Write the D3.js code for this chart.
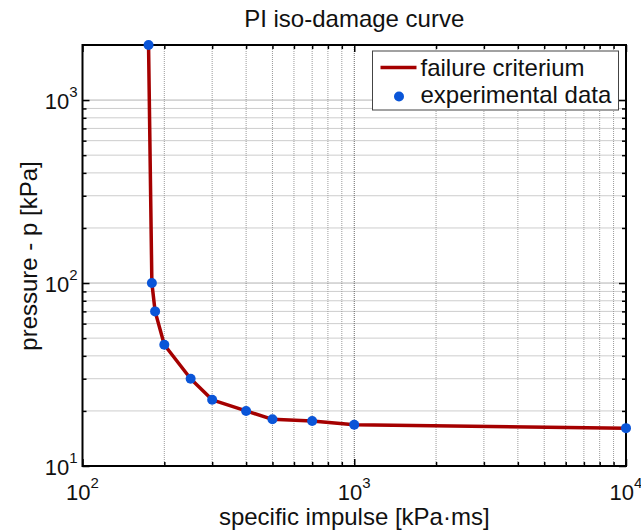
<!DOCTYPE html>
<html>
<head>
<meta charset="utf-8">
<script src="https://cdn.jsdelivr.net/npm/d3@7"></script>
<style>
  body { margin: 0; background: #fff; }
  svg text { font-family: "Liberation Sans", Arial, sans-serif; fill: #111; }
  .grid-minor line { stroke: #9a9a9a; stroke-width: 1; stroke-dasharray: 1,1; }
  .grid-major line { stroke: #666; stroke-width: 1; stroke-dasharray: 1,1; }
  .axis path { display: none; }
  .axis line { stroke: #000; stroke-width: 1.5; }
</style>
</head>
<body>
<div id="chart-area"></div>
<script>

// Data
let impulse  = [175, 180, 185, 200, 250, 300, 400, 500, 700, 1000, 10000];
let pressure = [2000, 100, 70, 46, 30, 23, 20, 18, 17.6, 16.8, 16.1];

// Tick labels (base 10, exponent)
let xTickValues = [100, 1000, 10000];
let xTickExp = ["2", "3", "4"];
let yTickValues = [10, 100, 1000];
let yTickExp = ["1", "2", "3"];

let legendLabels = ["failure criterium", "experimental data"];

let data = impulse.map((d, i) => ({x: d, y: pressure[i]}));

// SVG drawing area
let margin = {top: 45, right: 15, bottom: 66, left: 82.5};
let width = 641 - margin.left - margin.right,
    height = 532 - margin.top - margin.bottom;

let svg = d3.select("#chart-area").append("svg")
    .attr("width", 641)
    .attr("height", 532)
    .append("g")
    .attr("transform", "translate(" + margin.left + "," + margin.top + ")");

// Scales
let x = d3.scaleLog().domain([100, 10000]).range([0, width]);
let y = d3.scaleLog().domain([10, 2000]).range([height, 0]);

let xMinor = x.ticks().filter(d => xTickValues.indexOf(d) < 0);
let yMinor = y.ticks().filter(d => yTickValues.indexOf(d) < 0 && d < 2000);

// Grid
svg.append("g").attr("class", "grid-minor")
    .selectAll("line.v").data(xMinor).enter().append("line")
    .attr("x1", d => x(d)).attr("x2", d => x(d))
    .attr("y1", 0).attr("y2", height);
svg.append("g").attr("class", "grid-minor")
    .selectAll("line.h").data(yMinor).enter().append("line")
    .attr("y1", d => y(d)).attr("y2", d => y(d))
    .attr("x1", 0).attr("x2", width);
svg.append("g").attr("class", "grid-major")
    .selectAll("line").data([1000]).enter().append("line")
    .attr("x1", d => x(d)).attr("x2", d => x(d))
    .attr("y1", 0).attr("y2", height);
svg.append("g").attr("class", "grid-major")
    .selectAll("line").data([100, 1000]).enter().append("line")
    .attr("y1", d => y(d)).attr("y2", d => y(d))
    .attr("x1", 0).attr("x2", width);

// Ticks pointing inside, on all four sides
function addTicks(axisFn, scale, values, size, transform) {
    svg.append("g")
        .attr("class", "axis")
        .attr("transform", transform)
        .call(axisFn(scale).tickValues(values).tickSize(size).tickSizeOuter(0).tickFormat(""));
}
addTicks(d3.axisBottom, x, xMinor, -4, "translate(0," + height + ")");
addTicks(d3.axisBottom, x, xTickValues, -7, "translate(0," + height + ")");
addTicks(d3.axisTop, x, xMinor, -4, "translate(0,0)");
addTicks(d3.axisTop, x, xTickValues, -7, "translate(0,0)");
addTicks(d3.axisLeft, y, yMinor, -4, "translate(0,0)");
addTicks(d3.axisLeft, y, yTickValues, -7, "translate(0,0)");
addTicks(d3.axisRight, y, yMinor, -4, "translate(" + width + ",0)");
addTicks(d3.axisRight, y, yTickValues, -7, "translate(" + width + ",0)");

// Frame
svg.append("rect")
    .attr("width", width).attr("height", height)
    .attr("fill", "none").attr("stroke", "#000").attr("stroke-width", 2);

// Tick labels with superscripts
let xLabels = svg.selectAll(".x-label").data(xTickValues).enter().append("text")
    .attr("class", "x-label")
    .attr("x", d => x(d))
    .attr("y", height + 34)
    .attr("text-anchor", "middle")
    .style("font-size", "22px");
xLabels.append("tspan").text("10");
xLabels.append("tspan").attr("dy", -12).style("font-size", "15px").text((d, i) => xTickExp[i]);

let yLabels = svg.selectAll(".y-label").data(yTickValues).enter().append("text")
    .attr("class", "y-label")
    .attr("x", -5)
    .attr("y", d => y(d) + 9)
    .attr("text-anchor", "end")
    .style("font-size", "22px");
yLabels.append("tspan").text("10");
yLabels.append("tspan").attr("dy", -12).style("font-size", "15px").text((d, i) => yTickExp[i]);

// Line and points
let line = d3.line()
    .x(d => x(d.x))
    .y(d => y(d.y));

svg.append("path")
    .datum(data)
    .attr("d", line)
    .attr("fill", "none")
    .attr("stroke", "#a50000")
    .attr("stroke-width", 3.5)
    .attr("stroke-linejoin", "round");

svg.selectAll(".dot").data(data).enter().append("circle")
    .attr("class", "dot")
    .attr("cx", d => x(d.x))
    .attr("cy", d => y(d.y))
    .attr("r", 5)
    .attr("fill", "#0a55d8");

// Title and axis labels
svg.append("text")
    .attr("x", width / 2).attr("y", -18)
    .attr("text-anchor", "middle")
    .style("font-size", "24px")
    .text("PI iso-damage curve");

svg.append("text")
    .attr("x", width / 2).attr("y", height + 59)
    .attr("text-anchor", "middle")
    .style("font-size", "24px")
    .text("specific impulse [kPa\u00b7ms]");

svg.append("text")
    .attr("transform", "translate(" + (-46) + "," + (256 - margin.top) + ") rotate(-90)")
    .attr("text-anchor", "middle")
    .style("font-size", "24px")
    .text("pressure - p [kPa]");

// Legend
let legend = svg.append("g")
    .attr("transform", "translate(" + (372.5 - margin.left) + "," + (51 - margin.top) + ")");

legend.append("rect")
    .attr("width", 246).attr("height", 59)
    .attr("fill", "#fff").attr("stroke", "#444").attr("stroke-width", 1);

legend.append("line")
    .attr("x1", 8).attr("x2", 44).attr("y1", 16.5).attr("y2", 16.5)
    .attr("stroke", "#a50000").attr("stroke-width", 3.5);

legend.append("circle")
    .attr("cx", 26.5).attr("cy", 45.5).attr("r", 5).attr("fill", "#0a55d8");

legend.selectAll(".legend-text").data(legendLabels).enter().append("text")
    .attr("class", "legend-text")
    .attr("x", 48)
    .attr("y", (d, i) => 24.5 + i * 27.5)
    .style("font-size", "24px")
    .text(d => d);

</script>
</body>
</html>
